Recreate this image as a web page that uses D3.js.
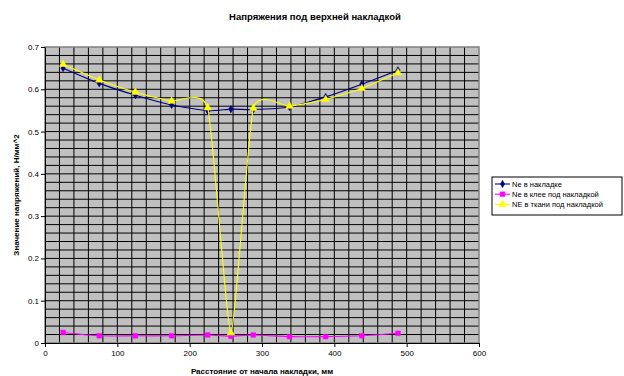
<!DOCTYPE html>
<html>
<head>
<meta charset="utf-8">
<script src="https://cdn.jsdelivr.net/npm/d3@7"></script>
<style>
  html, body { margin: 0; padding: 0; background: #ffffff; }
  svg { display: block; font-family: "Liberation Sans", Arial, sans-serif; }
</style>
</head>
<body>
<svg id="chart" width="624" height="376"></svg>
<script>
// Distance from the start of the overlay, mm
const positions = [25, 75, 125, 175, 225, 257, 288, 338, 388, 438, 488];
// Stress series, N/mm^2
const stressOverlay = [0.650, 0.614, 0.586, 0.563, 0.549, 0.553, 0.552, 0.558, 0.582, 0.612, 0.645];
const stressGlue    = [0.025, 0.017, 0.017, 0.017, 0.019, 0.016, 0.019, 0.015, 0.015, 0.017, 0.023];
const stressFabric  = [0.659, 0.622, 0.593, 0.572, 0.556, 0.024, 0.555, 0.560, 0.576, 0.602, 0.639];
const seriesNames = ["Ne в накладке", "Ne в клее под накладкой", "NE в ткани под накладкой"];
const xTicks = [0, 100, 200, 300, 400, 500, 600];
const yTicks = [0, 0.1, 0.2, 0.3, 0.4, 0.5, 0.6, 0.7];

const svg = d3.select("#chart");
const plot = { left: 45, right: 479, top: 47, bottom: 343 };

const x = d3.scaleLinear().domain([0, 600]).range([plot.left, plot.right]);
const y = d3.scaleLinear().domain([0, 0.7]).range([plot.bottom, plot.top]);

// plot area background
svg.append("rect")
  .attr("x", plot.left).attr("y", plot.top)
  .attr("width", plot.right - plot.left).attr("height", plot.bottom - plot.top)
  .attr("fill", "#c0c0c0");

// grid: every 20 mm and every 0.02 N/mm^2
const grid = svg.append("g").attr("stroke", "#000").attr("stroke-width", 1);
grid.selectAll("line.v").data(d3.range(20, 600, 20)).join("line")
  .attr("x1", d => x(d)).attr("x2", d => x(d))
  .attr("y1", plot.top).attr("y2", plot.bottom);
grid.selectAll("line.h").data(d3.range(1, 35).map(i => i * 0.02)).join("line")
  .attr("x1", plot.left).attr("x2", plot.right)
  .attr("y1", d => y(d)).attr("y2", d => y(d));

// plot area frame
svg.append("rect")
  .attr("x", plot.left).attr("y", plot.top)
  .attr("width", plot.right - plot.left).attr("height", plot.bottom - plot.top)
  .attr("fill", "none").attr("stroke", "#808080").attr("stroke-width", 1.5);

// axes
const xAxis = d3.axisBottom(x).tickValues(xTicks).tickSize(4).tickSizeOuter(0).tickFormat(d3.format("d"));
const yAxis = d3.axisLeft(y).tickValues(yTicks).tickSize(4).tickSizeOuter(0).tickFormat(d => d === 0 ? "0" : d3.format(".1f")(d));

const gx = svg.append("g").attr("transform", `translate(0,${plot.bottom})`).call(xAxis);
const gy = svg.append("g").attr("transform", `translate(${plot.left},0)`).call(yAxis);
[gx, gy].forEach(g => {
  g.select(".domain").attr("stroke", "#000");
  g.selectAll(".tick line").attr("stroke", "#000");
  g.selectAll(".tick text").attr("font-size", 8).attr("font-family", "Liberation Sans, Arial, sans-serif").attr("fill", "#000");
});
gx.selectAll(".tick text").attr("dy", "0.9em").attr("y", 6);
gy.selectAll(".tick text").attr("x", -6);

// series lines (smoothed)
const series = [
  { values: stressOverlay, color: "#000080", marker: "diamond" },
  { values: stressGlue, color: "#ff00ff", marker: "square" },
  { values: stressFabric, color: "#ffff00", marker: "triangle" }
];
const line = d3.line()
  .x((d, i) => x(positions[i]))
  .y(d => y(d))
  .curve(d3.curveCardinal.tension(0.5));

const symbolFor = {
  diamond: d3.symbol().type(d3.symbolDiamond).size(16),
  square: d3.symbol().type(d3.symbolSquare).size(22),
  triangle: d3.symbol().type(d3.symbolTriangle).size(24)
};

series.forEach(s => {
  svg.append("path")
    .attr("d", line(s.values))
    .attr("fill", "none")
    .attr("stroke", s.color)
    .attr("stroke-width", 1.1);
  svg.append("g").selectAll("path").data(s.values).join("path")
    .attr("transform", (d, i) => `translate(${x(positions[i])},${y(d)})`)
    .attr("d", symbolFor[s.marker]())
    .attr("fill", s.color)
    .attr("stroke", s.color)
    .attr("stroke-width", 0.5);
});

// title
svg.append("text")
  .attr("x", 315).attr("y", 20)
  .attr("text-anchor", "middle")
  .attr("font-size", 9.5).attr("font-weight", "bold")
  .text("Напряжения под верхней накладкой");

// axis titles
svg.append("text")
  .attr("x", 262).attr("y", 374)
  .attr("text-anchor", "middle")
  .attr("font-size", 8).attr("font-weight", "bold")
  .text("Расстояние от начала накладки, мм");

svg.append("text")
  .attr("transform", `translate(19,${(plot.top + plot.bottom) / 2}) rotate(-90)`)
  .attr("text-anchor", "middle")
  .attr("font-size", 8).attr("font-weight", "bold")
  .text("Значение напряжений, Н/мм^2");

// legend
const legend = svg.append("g").attr("transform", "translate(492,177)");
legend.append("rect")
  .attr("x", 0).attr("y", 0).attr("width", 130).attr("height", 38)
  .attr("fill", "#fff").attr("stroke", "#000").attr("stroke-width", 1);
series.forEach((s, i) => {
  const yy = 7 + i * 10.2;
  legend.append("line")
    .attr("x1", 3).attr("x2", 18).attr("y1", yy).attr("y2", yy)
    .attr("stroke", s.color).attr("stroke-width", 1.1);
  legend.append("path")
    .attr("transform", `translate(10.5,${yy})`)
    .attr("d", symbolFor[s.marker]())
    .attr("fill", s.color).attr("stroke", s.color).attr("stroke-width", 0.5);
  legend.append("text")
    .attr("x", 20).attr("y", yy + 2.7)
    .attr("font-size", 7.5)
    .text(seriesNames[i]);
});
</script>
</body>
</html>
